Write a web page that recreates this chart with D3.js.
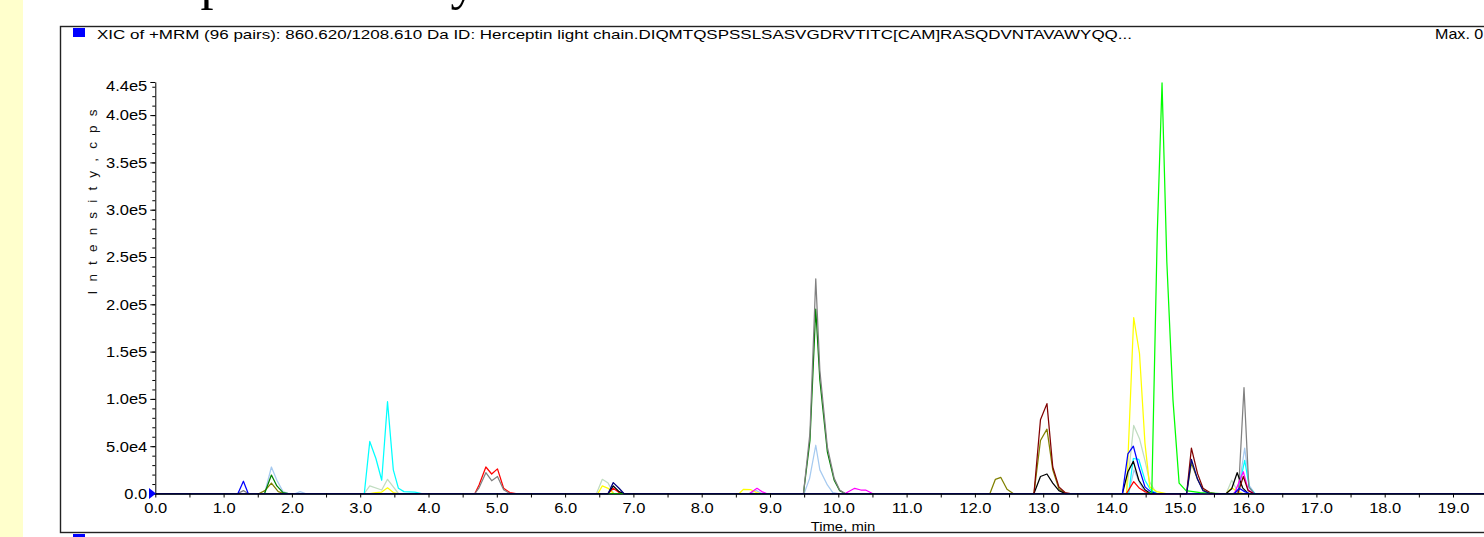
<!DOCTYPE html>
<html>
<head>
<meta charset="utf-8">
<script src="https://cdn.jsdelivr.net/npm/d3@7"></script>
<style>
  body { margin: 0; background: #fff; }
  svg { display: block; font-family: "Liberation Sans", Arial, sans-serif; }
</style>
</head>
<body>
<svg id="chart" width="1484" height="537"></svg>
<script>
// peak points per trace, [time (min), intensity (cps)]
const blueTrace = [[1.21,0],[1.29,1.3e4],[1.36,0],
  [14.16,0],[14.24,4.2e4],[14.32,5e4],[14.40,2.8e4],[14.49,7e3],[14.57,2e3],[14.66,0],
  [15.80,0],[15.87,5.5e3],[15.95,2e3],[16.02,0]];
const lightBlueTrace = [[1.60,0],[1.70,2.8e4],[1.78,1.4e4],[1.87,2e3],[1.95,0],
  [2.05,0],[2.12,2e3],[2.20,0],
  [8.70,0],[8.80,3e3],[8.88,0],
  [9.50,0],[9.58,1.6e4],[9.67,5.1e4],[9.73,2.5e4],[9.84,9e3],[9.92,1e3],[10.0,0],
  [14.25,0],[14.33,2.5e4],[14.42,1e4],[14.5,0],
  [15.85,0],[15.95,4.8e4],[16.02,8e3],[16.1,0]];
const greenTrace = [[1.60,0],[1.70,1.95e4],[1.78,8e3],[1.87,1e3],[1.95,0],
  [9.49,0],[9.585,5.6e4],[9.67,1.95e5],[9.73,1.2e5],[9.84,4.4e4],[9.94,1.4e4],[10.02,3e3],[10.1,0]];
const oliveTrace = [[1.52,0],[1.605,3e3],[1.70,1.1e4],[1.80,2e3],[1.88,0],
  [12.22,0],[12.30,1.5e4],[12.38,1.7e4],[12.47,4.4e3],[12.56,0],
  [12.865,0],[12.96,5.6e4],[13.055,6.8e4],[13.14,2.5e4],[13.23,5e3],[13.32,0],
  [15.10,0],[15.17,3.2e4],[15.26,1.5e4],[15.34,4e3],[15.44,0]];
const cyanTrace = [[3.06,0],[3.14,5.5e4],[3.23,3.7e4],[3.315,1.4e4],[3.40,9.7e4],[3.485,2.5e4],[3.56,5.5e3],[3.64,2e3],[3.8,1.5e3],[3.9,0],
  [14.25,0],[14.32,3.7e4],[14.40,3.6e4],[14.49,1.4e4],[14.57,4e3],[14.66,0],
  [15.85,0],[15.95,3.5e4],[16.02,6e3],[16.1,0]];
const grayGreenTrace = [[3.06,0],[3.14,8e3],[3.315,3.7e3],[3.40,1.5e4],[3.485,7e3],[3.56,0],
  [6.46,0],[6.545,1.5e4],[6.63,1.1e4],[6.71,0],
  [14.22,0],[14.325,7.2e4],[14.41,5.8e4],[14.49,3.5e4],[14.56,1.2e4],[14.66,0],
  [15.68,0],[15.76,1.4e4],[15.84,3e3],[15.92,0]];
const yellowTrace = [[3.14,0],[3.23,1e3],[3.315,1.5e3],[3.40,6e3],[3.485,1e3],[3.56,0],
  [6.48,0],[6.545,8e3],[6.63,5.5e3],[6.71,0],
  [8.55,0],[8.61,4.4e3],[8.72,4e3],[8.80,1e3],[8.86,0],
  [14.22,0],[14.325,1.86e5],[14.41,1.48e5],[14.49,5.3e4],[14.56,7e3],[14.66,2e3],[14.8,0],
  [15.68,0],[15.76,6e3],[15.84,2e3],[15.92,0]];
const redTrace = [[4.68,0],[4.74,9e3],[4.84,2.8e4],[4.925,2.06e4],[5.01,2.6e4],[5.10,5.5e3],[5.19,1e3],[5.28,0],
  [6.63,0],[6.705,5.5e3],[6.79,1e3],[6.86,0],
  [14.22,0],[14.325,1.25e4],[14.41,5.5e3],[14.49,2e3],[14.56,0]];
const grayTrace = [[1.21,0],[1.29,3e3],[1.36,0],
  [4.68,0],[4.74,6e3],[4.84,2.2e4],[4.925,1.35e4],[5.01,1.8e4],[5.10,4e3],[5.19,0],
  [9.49,0],[9.585,6.4e4],[9.67,2.27e5],[9.73,1.3e5],[9.84,4.9e4],[9.94,1.6e4],[10.02,3.7e3],[10.1,0],
  [15.78,0],[15.86,3e3],[15.94,1.12e5],[16.01,7e3],[16.09,0]];
const blackTrace = [[6.63,0],[6.705,8e3],[6.79,2e3],[6.86,0],
  [12.865,0],[12.96,1.8e4],[13.055,2.06e4],[13.14,1.1e4],[13.23,3e3],[13.32,0],
  [14.16,0],[14.24,2.3e4],[14.32,3.4e4],[14.40,1.4e4],[14.49,4e3],[14.57,0],
  [15.68,0],[15.76,5e3],[15.84,2.2e4],[15.92,6e3],[16.0,0]];
const magentaTrace = [[8.70,0],[8.81,5.5e3],[8.88,2e3],[8.95,0],
  [10.10,0],[10.24,5.5e3],[10.33,3.7e3],[10.40,3.7e3],[10.5,0],
  [15.80,0],[15.93,2.3e4],[16.0,4e3],[16.08,0]];
const maroonTrace = [[12.865,0],[12.96,7.8e4],[13.055,9.5e4],[13.14,2.8e4],[13.23,7e3],[13.32,1e3],[13.4,0],
  [15.10,0],[15.17,4.8e4],[15.26,2.1e4],[15.34,5.5e3],[15.44,1e3],[15.52,0],
  [15.85,0],[15.93,1.8e4],[16.0,3e3],[16.08,0]];
const limeTrace = [[14.52,0],[14.59,1e3],[14.67,2.75e5],[14.74,4.34e5],[14.81,2.45e5],[14.90,9.9e4],[14.99,1.1e4],[15.09,3e3],[15.3,1e3],[15.6,0]];
const navyTrace = [[6.63,0],[6.705,1.15e4],[6.79,5.5e3],[6.86,0],
  [15.10,0],[15.17,3.6e4],[15.26,1.5e4],[15.34,3e3],[15.44,0]];

const traceList = [lightBlueTrace, grayGreenTrace, oliveTrace, greenTrace, cyanTrace, yellowTrace, redTrace,
  grayTrace, blackTrace, magentaTrace, maroonTrace, blueTrace, limeTrace, navyTrace];
const traceColors = ["#a6caf0", "#c0dcc0", "#808000", "#008000", "#00ffff", "#ffff00", "#ff0000",
  "#808080", "#000000", "#ff00ff", "#800000", "#0000ff", "#00ff00", "#000080"];

const timeRange = [0, 20];
const yMax = 4.35e5;
const titleText = "XIC of +MRM (96 pairs): 860.620/1208.610 Da ID: Herceptin light chain.DIQMTQSPSSLSASVGDRVTITC[CAM]RASQDVNTAVAWYQQ...";

var svg = d3.select("#chart");

// slide background bits
svg.append("rect").attr("x", 0).attr("y", 0).attr("width", 23).attr("height", 537).attr("fill", "#ffffcc");
svg.append("text").attr("x", 85).attr("y", -1)
  .style("font-family", "'Liberation Serif', 'Times New Roman', serif").style("font-size", "52px")
  .text("Multiplexed Assay");

// panel frame
svg.append("rect").attr("x", 60.5).attr("y", 26.5).attr("width", 1500).attr("height", 506)
  .attr("fill", "none").attr("stroke", "#222").attr("stroke-width", 1.4);
svg.append("rect").attr("x", 73).attr("y", 28).attr("width", 12).attr("height", 9).attr("fill", "#0000ff");
svg.append("rect").attr("x", 73).attr("y", 534).attr("width", 12).attr("height", 9).attr("fill", "#0000ff");
svg.append("text").attr("x", 97).attr("y", 38.5).attr("textLength", 1035).attr("lengthAdjust", "spacingAndGlyphs")
  .style("font-size", "13.5px").text(titleText);
svg.append("text").attr("transform", "translate(1435,38.5) scale(1.15,1)").style("font-size", "14px").text("Max. 0.0 cps.");

var x = d3.scaleLinear().domain(timeRange).range([155.3, 155.3 + 20 * 68.3]);
var y = d3.scaleLinear().domain([0, yMax]).range([493.5, 493.5 - yMax / 5e4 * 47.3]);

function fmtE(v) {
  if (v == 0) return "0.0";
  var e = Math.floor(Math.log10(v));
  return (v / Math.pow(10, e)).toFixed(1) + "e" + e;
}

// traces
var line = d3.line().x(d => x(d[0])).y(d => y(d[1]));
var plot = svg.append("g").attr("class", "traces");
traceList.forEach(function (pts, i) {
  var full = [[timeRange[0], 0]].concat(pts, [[timeRange[1], 0]]);
  plot.append("path").datum(full)
    .attr("fill", "none")
    .attr("stroke", traceColors[i])
    .attr("stroke-width", 1.25)
    .attr("stroke-linejoin", "round")
    .attr("d", line);
});

// x axis
var xAxis = svg.append("g").attr("transform", "translate(0," + y(0) + ")")
  .call(d3.axisBottom(x).tickValues(d3.range(0, 19.51, 0.5)).tickSize(4).tickSizeOuter(0)
    .tickFormat(d => d % 1 === 0 ? d3.format(".1f")(d) : ""));
xAxis.select(".domain").attr("stroke", "#000");
xAxis.selectAll("text").style("font-size", "15px").attr("fill", "#000").attr("dy", "0.85em")
  .attr("transform", "scale(1.1,1)");

// y axis, minor ticks then labelled ticks
var yMinor = svg.append("g").attr("transform", "translate(" + x(0) + ",0)")
  .call(d3.axisLeft(y).tickValues(d3.range(0, yMax, 1e4)).tickSize(3).tickSizeOuter(0).tickFormat(""));
yMinor.select(".domain").attr("stroke", "#000");
var majorVals = d3.range(0, 4.01e5, 5e4);
var yMajor = svg.append("g").attr("transform", "translate(" + x(0) + ",0)")
  .call(d3.axisLeft(y).tickValues(majorVals.concat([yMax])).tickSize(5).tickSizeOuter(0)
    .tickFormat(d => d == yMax ? fmtE(Math.ceil(yMax / 1e4) * 1e4) : fmtE(d)));
yMajor.select(".domain").remove();
yMajor.selectAll("text").style("font-size", "15px").attr("fill", "#000")
  .attr("x", -7.3).attr("transform", "scale(1.1,1)");
yMajor.selectAll(".tick").filter(d => d == yMax).select("text").attr("dy", "0.55em");

// origin marker
svg.append("path").attr("d", d3.line()([[149, 488], [156, y(0)], [149, 499]]) + "Z").attr("fill", "#0000ff");

// axis titles
svg.append("text").attr("transform", "translate(97,202) rotate(-90)")
  .attr("text-anchor", "middle").attr("textLength", 185).attr("lengthAdjust", "spacing")
  .style("font-size", "13.5px").attr("fill", "#111").text("I n t e n s i t y ,  c p s");
svg.append("text").attr("transform", "translate(843,531) scale(1.1,1)").attr("text-anchor", "middle")
  .style("font-size", "13.5px").text("Time, min");
</script>
</body>
</html>
